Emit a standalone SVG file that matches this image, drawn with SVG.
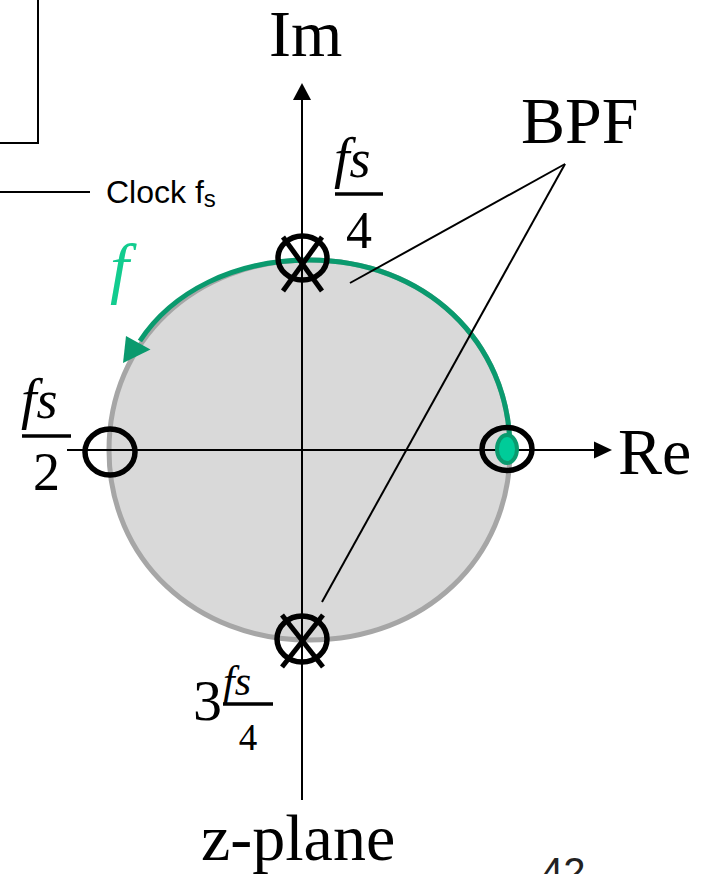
<svg xmlns="http://www.w3.org/2000/svg" width="720" height="874" viewBox="0 0 720 874">
<style>
.big{font-family:"Liberation Serif","Times New Roman",serif;font-size:66px;fill:#000}
.mi{font-family:"Liberation Serif","Times New Roman",serif;font-style:italic;fill:#000}
.num{font-family:"Liberation Serif","Times New Roman",serif;fill:#000}
.ring{fill:none;stroke:#000;stroke-width:5.5}
.xl{stroke:#000;stroke-width:5;stroke-linecap:butt}
.ax{stroke:#000;stroke-width:2;fill:none}
.thin{stroke:#000;stroke-width:2;fill:none}
.bar{stroke:#000;stroke-width:3.5}
</style>
<rect width="720" height="874" fill="#fff"/>

<g id="clock-box">
<path class="thin" d="M0,143 H38 V0" stroke-width="2.5"/>
<line class="thin" x1="0" y1="192" x2="90" y2="192"/>
<text x="106" y="203" font-family="Liberation Sans, Arial, sans-serif" font-size="32" fill="#000">Clock f<tspan font-size="24" dy="4">s</tspan></text>
</g>

<g id="unit-circle">
<path d="M510,450 C510,341 424.2,260 309.5,260 C194.8,260 109,341 109,450 C109,559 194.8,640 309.5,640 C424.2,640 510,559 510,450 Z" fill="#d9d9d9" stroke="#a6a6a6" stroke-width="5"/>
</g>

<g id="frequency-path">
<path d="M510,450 C510,341 424.2,260 309.5,260 C234,260 172,292 139.9,341" fill="none" stroke="#0a9a6e" stroke-width="5"/>
<polygon points="126,336 150.5,349.5 123,363" fill="#0a9a6e"/>
<text class="mi" x="110" y="291" font-size="68" style="fill:#12cc8f">f</text>
</g>

<g id="axes">
<line class="ax" x1="67" y1="450" x2="596" y2="450"/>
<polygon points="594,441.5 612,450 594,458.5" fill="#000"/>
<line class="ax" x1="302" y1="800" x2="302" y2="98"/>
<polygon points="293,100 302,83 311,100" fill="#000"/>
</g>

<g id="connectors">
<line class="thin" x1="565" y1="164" x2="350" y2="283"/>
<line class="thin" x1="565" y1="164" x2="322" y2="602"/>
</g>

<g id="zero-right">
<ellipse cx="507" cy="449" rx="10" ry="14" fill="#00cc99" stroke="#0a9a6e" stroke-width="4"/>
<ellipse class="ring" cx="507" cy="449" rx="25" ry="21.5"/>
</g>

<g id="zero-left">
<ellipse class="ring" cx="110" cy="452" rx="25" ry="23"/>
</g>

<g id="pole-top">
<ellipse class="ring" cx="302.5" cy="258" rx="24.5" ry="22"/>
<line class="xl" x1="283" y1="237" x2="322" y2="291"/>
<line class="xl" x1="322" y1="237" x2="283" y2="291"/>
</g>

<g id="pole-bottom">
<ellipse class="ring" cx="302" cy="639" rx="25" ry="23"/>
<line class="xl" x1="282" y1="615" x2="323" y2="667"/>
<line class="xl" x1="323" y1="615" x2="282" y2="667"/>
</g>

<g id="label-fs4">
<text class="mi" x="334" y="177" font-size="56">f<tspan font-size="54">s</tspan></text>
<line class="bar" x1="335" y1="194" x2="383" y2="194"/>
<text class="num" x="359" y="248" font-size="52" text-anchor="middle">4</text>
</g>

<g id="label-fs2">
<text class="mi" x="21" y="418" font-size="56">f<tspan font-size="54">s</tspan></text>
<line class="bar" x1="22" y1="436" x2="71" y2="436"/>
<text class="num" x="46.5" y="490" font-size="54" text-anchor="middle">2</text>
</g>

<g id="label-3fs4">
<text class="num" x="193" y="720" font-size="58">3</text>
<text class="mi" x="223" y="695" font-size="42">f<tspan font-size="42">s</tspan></text>
<line class="bar" x1="223" y1="704" x2="273" y2="704"/>
<text class="num" x="248" y="750" font-size="37" text-anchor="middle">4</text>
</g>

<g id="labels">
<text class="big" x="269" y="56">Im</text>
<text class="big" x="521" y="143">BPF</text>
<text class="big" x="618" y="474">Re</text>
<text class="big" x="201" y="860">z-plane</text>
<text x="541" y="886" font-family="Liberation Sans, Arial, sans-serif" font-size="40" fill="#222">42</text>
</g>
</svg>
